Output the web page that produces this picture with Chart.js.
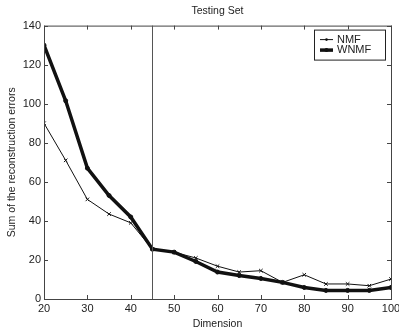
<!DOCTYPE html>
<html>
<head>
<meta charset="utf-8">
<script src="https://cdn.jsdelivr.net/npm/chart.js@4"></script>
<style>
  html, body { margin: 0; padding: 0; background: #fff; }
  #wrap { width: 399px; height: 332px; }
</style>
</head>
<body>
<div id="wrap"><canvas id="errChart" width="399" height="332"></canvas></div>
<script>
const dims = [20, 25, 30, 35, 40, 45, 50, 55, 60, 65, 70, 75, 80, 85, 90, 95, 100];
const nmf  = [90, 71, 51, 43.5, 39, 25.5, 24, 21, 16.8, 13.8, 14.5, 8.5, 12.4, 7.7, 7.7, 6.8, 10.2];
const wnmf = [130, 101.5, 67, 53, 42, 25.5, 24, 19.2, 13.8, 12, 10.5, 8.5, 5.9, 4.4, 4.4, 4.4, 5.9];
const xTicks = [20, 30, 40, 50, 60, 70, 80, 90, 100];
const yTicks = [0, 20, 40, 60, 80, 100, 120, 140];
const splitDim = 45;

const axisColor = '#444';
const font = { family: 'Liberation Sans, Arial, sans-serif', size: 11 };
const titleFont = { family: font.family, size: 10.5 };

// frame, inward ticks, split line and legend box
const framePlugin = {
  id: 'frame',
  afterDatasetsDraw(chart) {
    const { ctx, chartArea: a, scales: { x, y } } = chart;
    ctx.save();
    ctx.strokeStyle = axisColor;
    ctx.lineWidth = 1;
    ctx.strokeRect(a.left + 0.5, a.top + 0.5, a.right - a.left, a.bottom - a.top);

    ctx.beginPath();
    xTicks.forEach(v => {
      const px = Math.round(x.getPixelForValue(v)) + 0.5;
      ctx.moveTo(px, a.bottom); ctx.lineTo(px, a.bottom - 4);
      ctx.moveTo(px, a.top); ctx.lineTo(px, a.top + 4);
    });
    yTicks.forEach(v => {
      const py = Math.round(y.getPixelForValue(v)) + 0.5;
      ctx.moveTo(a.left, py); ctx.lineTo(a.left + 4, py);
      ctx.moveTo(a.right, py); ctx.lineTo(a.right - 4, py);
    });
    ctx.stroke();

    // split line
    const sx = Math.round(x.getPixelForValue(splitDim)) + 0.5;
    ctx.strokeStyle = '#555';
    ctx.beginPath();
    ctx.moveTo(sx, a.top); ctx.lineTo(sx, a.bottom);
    ctx.stroke();

    // legend
    const bx = a.right - 77, by = a.top + 4, bw = 71, bh = 30;
    ctx.fillStyle = '#fff';
    ctx.fillRect(bx, by, bw, bh);
    ctx.strokeStyle = '#222';
    ctx.strokeRect(bx + 0.5, by + 0.5, bw, bh);
    ctx.font = '11px ' + font.family;
    ctx.textBaseline = 'middle';
    chart.data.datasets.forEach((ds, i) => {
      const ly = by + 10 + i * 10.5;
      ctx.strokeStyle = '#111';
      ctx.lineWidth = ds.borderWidth;
      ctx.beginPath();
      ctx.moveTo(bx + 6, ly); ctx.lineTo(bx + 19, ly);
      ctx.stroke();
      ctx.fillStyle = '#111';
      ctx.beginPath();
      ctx.arc(bx + 12.5, ly, i ? 2 : 1.3, 0, Math.PI * 2);
      ctx.fill();
      ctx.fillStyle = '#222';
      ctx.fillText(ds.label, bx + 23, ly);
    });
    ctx.restore();
  }
};

new Chart(document.getElementById('errChart'), {
  type: 'line',
  data: {
    labels: dims,
    datasets: [
      {
        label: 'NMF',
        data: dims.map((d, i) => ({ x: d, y: nmf[i] })),
        borderColor: '#111',
        backgroundColor: '#111',
        borderWidth: 1,
        pointStyle: 'crossRot',
        pointRadius: 2.5,
        pointBorderWidth: 1,
        tension: 0
      },
      {
        label: 'WNMF',
        data: dims.map((d, i) => ({ x: d, y: wnmf[i] })),
        borderColor: '#111',
        backgroundColor: '#111',
        borderWidth: 3.5,
        pointStyle: 'circle',
        pointRadius: 2,
        pointBorderWidth: 1,
        tension: 0
      }
    ]
  },
  options: {
    responsive: false,
    animation: false,
    layout: { padding: { left: 0, right: 8, top: 0, bottom: 0 } },
    plugins: {
      legend: { display: false },
      tooltip: { enabled: false },
      title: {
        display: true,
        fullSize: false,
        text: 'Testing Set',
        color: '#222',
        font: { family: font.family, size: 10.5, weight: 'normal' },
        padding: { top: 5, bottom: 8 }
      }
    },
    scales: {
      x: {
        type: 'linear',
        min: 20, max: 100,
        afterFit: s => { s.height = 33; s.paddingRight = 0; },
        afterBuildTicks: s => { s.ticks = xTicks.map(v => ({ value: v })); },
        grid: { display: false, drawTicks: false },
        border: { display: false },
        ticks: { color: '#222', font, padding: 3, maxRotation: 0 },
        title: { display: true, text: 'Dimension', color: '#222', font: titleFont, padding: { top: 0, bottom: 2 } }
      },
      y: {
        min: 0, max: 140,
        afterFit: s => { s.width = 44; },
        afterBuildTicks: s => { s.ticks = yTicks.map(v => ({ value: v })); },
        grid: { display: false, drawTicks: false },
        border: { display: false },
        ticks: { color: '#222', font, padding: 3 },
        title: { display: true, text: 'Sum of the reconstruction errors', color: '#222', font: titleFont, padding: { top: 6, bottom: 0 } }
      }
    }
  },
  plugins: [framePlugin]
});
</script>
</body>
</html>
